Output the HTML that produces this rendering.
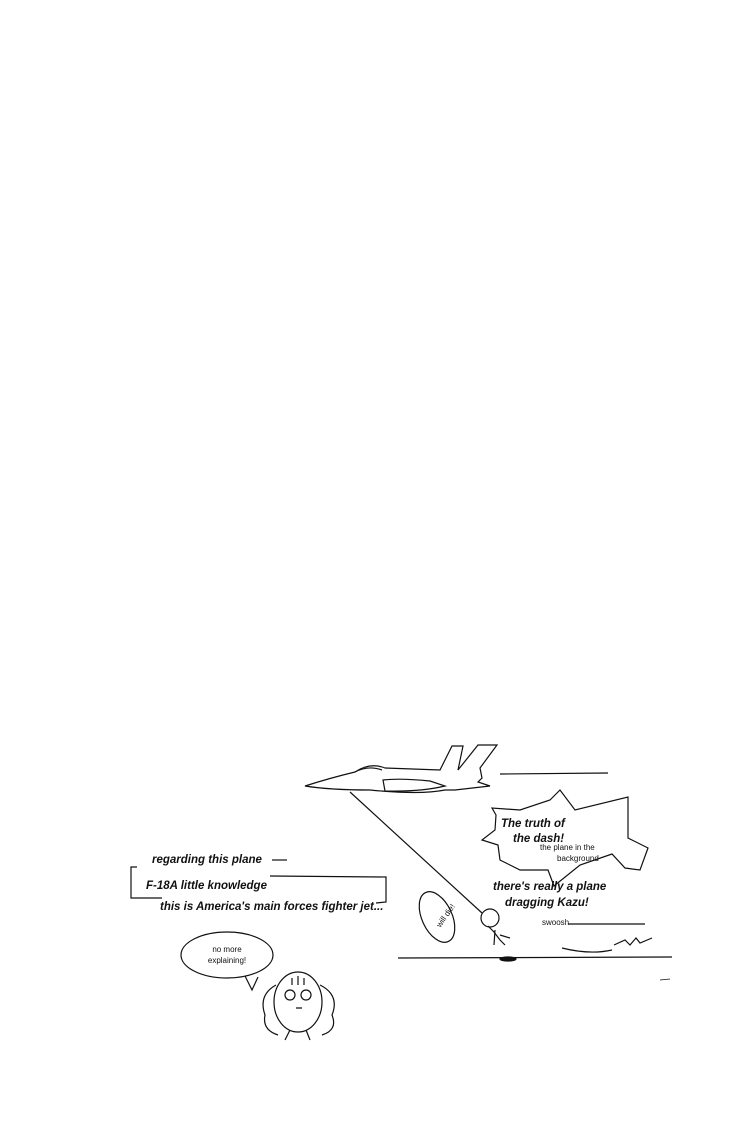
<!DOCTYPE html>
<html><head><style>
body{margin:0;background:#fff;}
svg{display:block}
text{font-family:"Liberation Sans",sans-serif;fill:#111}
.h{font-style:italic;font-weight:bold;font-size:11.5px}
.s{font-size:8px}
</style></head><body>
<svg width="750" height="1138" viewBox="0 0 750 1138" xmlns="http://www.w3.org/2000/svg">
<rect width="750" height="1138" fill="#fff"/>
<g fill="none" stroke="#111" stroke-width="1.2">
<path d="M305 786 Q330 778 355 772 Q370 762 385 768 L440 770 L452 746 L463 746 L458 770 L478 745 L497 745 L480 768 L482 778 L478 782 L490 786 L455 790 L445 790 Q420 795 370 790 Q330 790 305 786 Z"/>
<path d="M355 772 Q368 765 382 770"/>
<path d="M383 780 Q400 778 430 781 L445 786 Q420 792 385 791 Z"/>
<path d="M350 792 L482 913"/>
<line x1="500" y1="774" x2="608" y2="773"/>
<path d="M496 815 L492 808 L520 810 L550 800 L560 790 L575 810 L628 797 L628 838 L648 848 L640 870 L625 868 L612 854 L580 865 L554 886 L548 870 L520 870 L500 860 L498 845 L482 840 L495 830 Z"/>
<path d="M137 867 L131 867 L131 898 L162 898"/>
<path d="M287 860 L272 860"/>
<path d="M270 876 L386 877 L386 902 L376 903"/>
<ellipse cx="437" cy="917" rx="15" ry="27" transform="rotate(-25 437 917)"/>
<circle cx="490" cy="918" r="9"/>
<path d="M488 926 L494 932 L500 940 L505 945 M500 935 L510 938 M495 930 L494 945"/>
<path d="M568 924 L645 924"/>
<path d="M614 945 L625 940 L630 945 L636 938 L640 943 L652 938"/>
<path d="M562 948 Q590 955 612 950"/>
<path d="M398 958 L672 957"/>
<ellipse cx="508" cy="959" rx="8" ry="2" fill="#111"/>
<ellipse cx="227" cy="955" rx="46" ry="23"/>
<path d="M245 976 L252 990 L258 977"/>
<ellipse cx="298" cy="1002" rx="24" ry="30"/>
<path d="M276 985 Q258 995 265 1015 Q262 1030 278 1035 M320 985 Q340 995 332 1015 Q338 1030 322 1035"/>
<circle cx="290" cy="995" r="5"/><circle cx="306" cy="995" r="5"/>
<path d="M292 985 L292 978 M298 985 L298 976 M304 985 L304 978 M296 1008 L302 1008 M290 1030 L285 1040 M306 1030 L310 1040"/>
<path d="M660 980 L670 979" stroke-width="0.8"/>
</g>
<text x="501" y="827" class="h">The truth of</text>
<text x="513" y="842" class="h">the dash!</text>
<text x="540" y="850" class="s">the plane in the</text>
<text x="557" y="861" class="s">background</text>
<text x="493" y="890" class="h">there's really a plane</text>
<text x="505" y="906" class="h">dragging Kazu!</text>
<text x="542" y="925" class="s">swoosh</text>
<text x="152" y="863" class="h">regarding this plane</text>
<text x="146" y="889" class="h">F-18A little knowledge</text>
<text x="160" y="910" class="h">this is America's main forces fighter jet...</text>
<text x="430" y="928" class="s" transform="rotate(-55 435 918)">will die!</text>
<text x="227" y="952" class="s" text-anchor="middle">no more</text>
<text x="227" y="963" class="s" text-anchor="middle">explaining!</text>
</svg>
</body></html>
